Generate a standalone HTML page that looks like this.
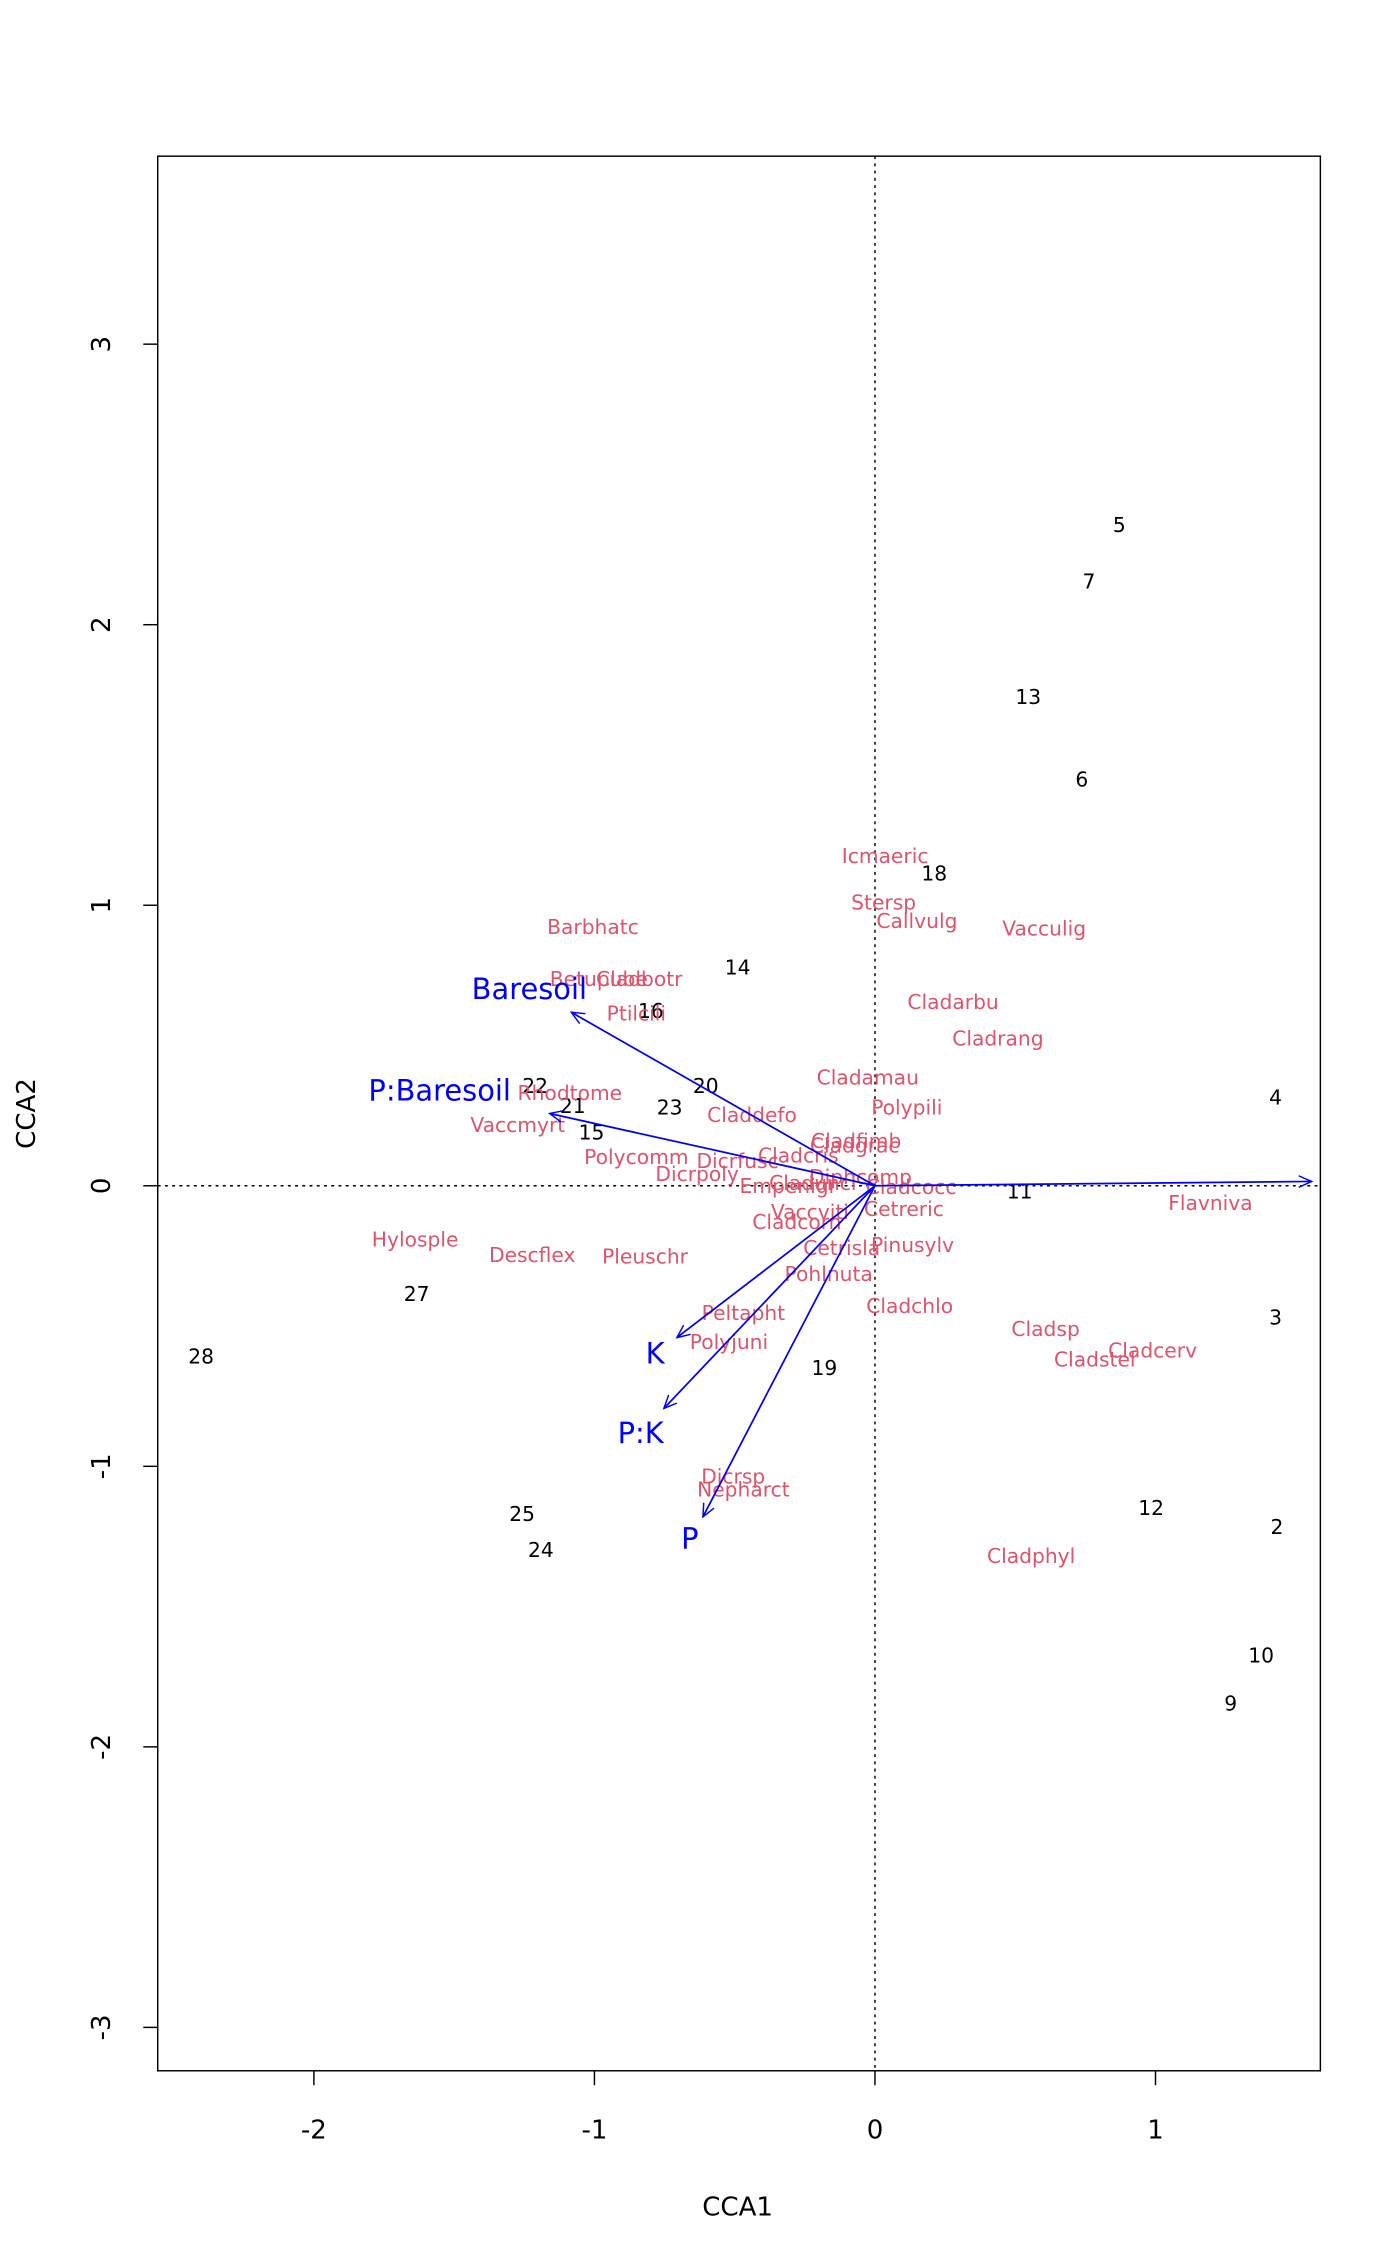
<!DOCTYPE html>
<html><head><meta charset="utf-8"><style>html,body{margin:0;padding:0;background:#fff}svg{display:block}</style></head>
<body>
<svg width="1400" height="2266" viewBox="0 0 968 1567" xmlns="http://www.w3.org/2000/svg" font-family="'DejaVu Sans','Liberation Sans',sans-serif">
<rect x="0" y="0" width="968" height="1567" fill="#fff"/>
<rect x="109" y="108" width="804" height="1324" fill="none" stroke="#000" stroke-width="1"/>
<line x1="605" y1="108" x2="605" y2="1432" stroke="#000" stroke-dasharray="2,3"/>
<line x1="109" y1="820" x2="913" y2="820" stroke="#000" stroke-dasharray="2,3"/>
<g stroke="#000">
<line x1="217" y1="1432" x2="217" y2="1442"/><line x1="411" y1="1432" x2="411" y2="1442"/><line x1="605" y1="1432" x2="605" y2="1442"/><line x1="799" y1="1432" x2="799" y2="1442"/>
<line x1="99" y1="238" x2="109" y2="238"/><line x1="99" y1="432" x2="109" y2="432"/><line x1="99" y1="626" x2="109" y2="626"/><line x1="99" y1="820" x2="109" y2="820"/><line x1="99" y1="1014" x2="109" y2="1014"/><line x1="99" y1="1208" x2="109" y2="1208"/><line x1="99" y1="1402" x2="109" y2="1402"/>
</g>
<g font-size="18" text-anchor="middle" fill="#000">
<text x="217" y="1479">-2</text><text x="411" y="1479">-1</text><text x="605" y="1479">0</text><text x="799" y="1479">1</text>
<text transform="translate(76,238) rotate(-90)">3</text>
<text transform="translate(76,432) rotate(-90)">2</text>
<text transform="translate(76,626) rotate(-90)">1</text>
<text transform="translate(76,820) rotate(-90)">0</text>
<text transform="translate(76,1014) rotate(-90)">-1</text>
<text transform="translate(76,1208) rotate(-90)">-2</text>
<text transform="translate(76,1402) rotate(-90)">-3</text>
<text x="510" y="1532">CCA1</text>
<text transform="translate(24,770) rotate(-90)">CCA2</text>
</g>
<g font-size="14" text-anchor="middle" dominant-baseline="central" fill="#000">
<text x="774" y="363">5</text><text x="753" y="402">7</text><text x="711" y="482">13</text><text x="748" y="539">6</text>
<text x="646" y="604">18</text><text x="510" y="669">14</text><text x="450" y="699">16</text><text x="370" y="751">22</text>
<text x="488" y="751">20</text><text x="396" y="765">21</text><text x="463" y="766">23</text><text x="409" y="783">15</text>
<text x="882" y="759">4</text><text x="705" y="824">11</text><text x="882" y="911">3</text><text x="570" y="946">19</text>
<text x="288" y="895">27</text><text x="139" y="938">28</text><text x="361" y="1047">25</text><text x="374" y="1072">24</text>
<text x="796" y="1043">12</text><text x="883" y="1056">2</text><text x="872" y="1145">10</text><text x="851" y="1178">9</text>
</g>
<g font-size="14" text-anchor="middle" dominant-baseline="central" fill="#DF536B">
<text x="612" y="592">Icmaeric</text><text x="611" y="624">Stersp</text><text x="634" y="637">Callvulg</text><text x="722" y="642">Vacculig</text>
<text x="410" y="641">Barbhatc</text><text x="414" y="677">Betupube</text><text x="442" y="677">Cladbotr</text><text x="440" y="701">Ptilcili</text>
<text x="659" y="693">Cladarbu</text><text x="690" y="718">Cladrang</text><text x="600" y="745">Cladamau</text><text x="627" y="766">Polypili</text>
<text x="394" y="756">Rhodtome</text><text x="358" y="778">Vaccmyrt</text><text x="520" y="771">Claddefo</text>
<text x="592" y="789">Cladfimb</text><text x="591" y="792">Cladgrac</text><text x="440" y="800">Polycomm</text><text x="510" y="803">Dicrfusc</text>
<text x="552" y="799">Cladcris</text><text x="482" y="812">Dicrpoly</text><text x="595" y="814">Diphcomp</text><text x="545" y="820">Empenigr</text>
<text x="562" y="818">Cladunci</text><text x="630" y="821">Cladcocc</text><text x="560" y="838">Vaccviti</text><text x="625" y="836">Cetreric</text>
<text x="551" y="845">Cladcorn</text><text x="582" y="863">Cetrisla</text><text x="631" y="861">Pinusylv</text><text x="573" y="881">Pohlnuta</text>
<text x="629" y="903">Cladchlo</text><text x="287" y="857">Hylosple</text><text x="368" y="868">Descflex</text><text x="446" y="869">Pleuschr</text>
<text x="514" y="908">Peltapht</text><text x="504" y="928">Polyjuni</text><text x="507" y="1021">Dicrsp</text><text x="514" y="1030">Nepharct</text>
<text x="713" y="1076">Cladphyl</text><text x="723" y="919">Cladsp</text><text x="797" y="934">Cladcerv</text><text x="757" y="940">Cladstel</text>
<text x="837" y="832">Flavniva</text>
</g>
<defs><marker id="a" markerWidth="10" markerHeight="10" refX="9" refY="5" orient="auto" markerUnits="userSpaceOnUse"><path d="M0,1 L9,5 L0,9" fill="none" stroke="#00f" stroke-width="1"/></marker></defs>
<g stroke="#00f" stroke-width="1.2" marker-end="url(#a)">
<line x1="605" y1="820" x2="395" y2="700"/>
<line x1="605" y1="820" x2="380" y2="770"/>
<line x1="605" y1="820" x2="468" y2="925"/>
<line x1="605" y1="820" x2="459" y2="974"/>
<line x1="605" y1="820" x2="486" y2="1049"/>
<line x1="605" y1="820" x2="907" y2="817"/>
</g>
<g font-size="20" text-anchor="middle" dominant-baseline="central" fill="#00f">
<text x="366" y="684">Baresoil</text><text x="304" y="754">P:Baresoil</text><text x="453" y="936">K</text><text x="443" y="991">P:K</text><text x="477" y="1064">P</text>
</g>
</svg>
</body></html>
